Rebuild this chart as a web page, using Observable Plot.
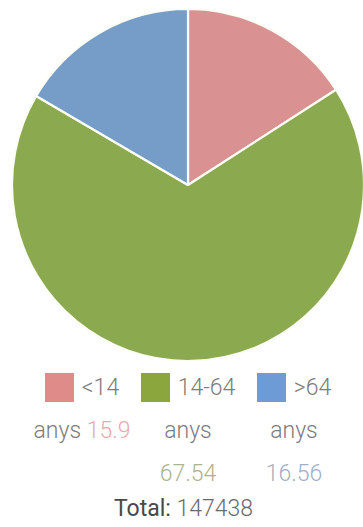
<!DOCTYPE html>
<html>
<head>
<meta charset="utf-8">
<script src="https://cdn.jsdelivr.net/npm/d3@7"></script>
<script src="https://cdn.jsdelivr.net/npm/@observablehq/plot@0.6"></script>
<style>
  html, body { margin: 0; padding: 0; background: #fff; }
  body { width: 363px; height: 527px; overflow: hidden; font-family: Roboto, "Noto Sans", sans-serif; }
  #chart svg { display: block; }
  .legend { display: flex; margin-left: 29px; width: 318px; }
  .item { width: 106px; text-align: center; font-size: 23px; font-weight: 300; line-height: 43px; color: #7c7c7c; }
  .sw { display: inline-block; width: 29px; height: 29px; vertical-align: -7px; margin-right: 8px; }
  .total { width: 363px; text-align: center; font-size: 23px; line-height: 28px; color: #6a6a6a; font-weight: 300; padding-left: 4px; box-sizing: border-box; }
  .total b { font-weight: 400; color: #484848; }
</style>
</head>
<body>
<div id="chart"></div>
<script>
// ---- data ----
const categories = ["<14", "14-64", ">64"];
const unitLabel = "anys";
const shares = [15.9, 67.54, 16.56];
const totalLabel = "Total:";
const totalValue = 147438;
const sliceColors = ["#d99291", "#8ba94f", "#759dc8"];
const swatchColors = ["#df8b8a", "#8aa63d", "#6c9bd5"];
const valueColors = ["#eaa9a8", "#abb38c", "#a2aec6"];

const data = categories.map((c, i) => ({category: c, share: shares[i]}));

// pie drawn through Plot's x, y and color scales
const pieMark = (index, scales) => {
  const cx = scales.x(0), cy = scales.y(0);
  const r = scales.x(1) - scales.x(0);
  const arcs = d3.pie().sort(null).value(d => d.share)(data);
  const arc = d3.arc().innerRadius(0).outerRadius(r);
  const g = d3.create("svg:g").attr("transform", `translate(${cx},${cy})`);
  g.selectAll("path").data(arcs).join("path")
    .attr("d", arc)
    .attr("fill", d => scales.color(d.data.category))
    .attr("stroke", "#fdfdf6")
    .attr("stroke-width", 2.2)
    .attr("stroke-linejoin", "round");
  return g.node();
};

const chart = Plot.plot({
  width: 363,
  height: 366,
  margin: 0,
  x: {domain: [-1, 1], range: [12, 364], axis: null},
  y: {domain: [-1, 1], range: [361, 9], axis: null},
  color: {domain: categories, range: sliceColors},
  marks: [pieMark]
});
document.getElementById("chart").appendChild(chart);

// legend
const legend = d3.select("body").append("div").attr("class", "legend");
categories.forEach((c, i) => {
  const it = legend.append("div").attr("class", "item");
  const node = it.node();
  it.append("span").attr("class", "sw").style("background", swatchColors[i]);
  it.append("span").text(c);
  node.appendChild(document.createTextNode(" "));
  it.append("span").text(unitLabel);
  node.appendChild(document.createTextNode(" "));
  it.append("span").style("color", valueColors[i]).text(String(shares[i]));
});

const tot = d3.select("body").append("div").attr("class", "total");
tot.append("b").text(totalLabel);
tot.append("span").text(" " + totalValue);
</script>
</body>
</html>
